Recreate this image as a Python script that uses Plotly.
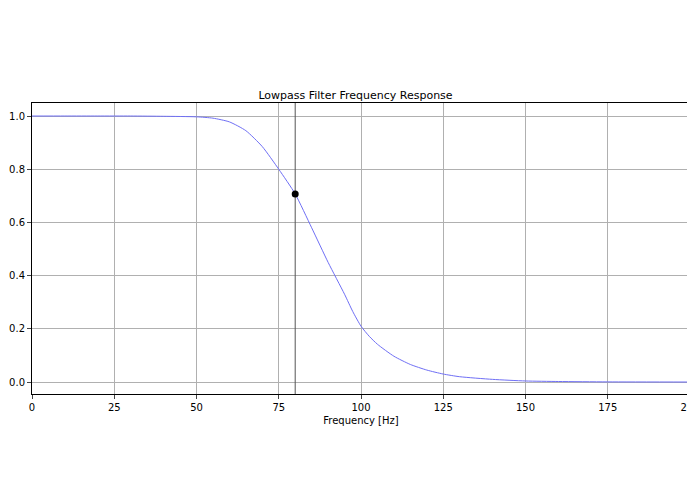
import plotly.graph_objects as go

freq = [0,10,20,30,40,50,55,60,65,70,75,80,85,90,95,97.5,100,102.5,105,110,115,120,125,130,140,150,160,175,200]
gain = [1.0,1.0,1.0,1.0,0.999,0.997,0.992,0.978,0.945,0.885,0.80,0.707,0.58,0.45,0.33,0.265,0.21,0.172,0.142,0.097,0.066,0.045,0.03,0.02,0.01,0.004,0.002,0.0005,0.0]
cutoff = 80
cutoff_gain = 0.707

fig = go.Figure()
fig.add_trace(go.Scatter(x=freq, y=gain, mode="lines", line=dict(color="#6f6ff5", width=1, shape="spline", smoothing=0.6)))
fig.add_trace(go.Scatter(x=[cutoff, cutoff], y=[-0.045, 1.049], mode="lines", line=dict(color="#555555", width=1)))
fig.add_trace(go.Scatter(x=[cutoff], y=[cutoff_gain], mode="markers", marker=dict(color="black", size=7)))

ax = dict(showgrid=True, gridcolor="#b0b0b0", gridwidth=1, showline=True, linecolor="black", mirror=True,
          ticks="outside", ticklen=4, zeroline=False, tickfont=dict(size=10), automargin=False)
fig.update_layout(
    width=695, height=494, margin=dict(l=24, r=13, t=95, b=108),
    plot_bgcolor="white", paper_bgcolor="white", showlegend=False,
    font=dict(family="DejaVu Sans", color="black", size=10),
    title=dict(text="Lowpass Filter Frequency Response", x=0.5, xanchor="center", y=1-87/494, yanchor="middle", font=dict(size=11)),
    xaxis=dict(ax, range=[0, 200], tickvals=[0,25,50,75,100,125,150,175,200], title=dict(text="Frequency [Hz]", standoff=4, font=dict(size=10))),
    yaxis=dict(ax, range=[-0.045, 1.049], tickvals=[0,0.2,0.4,0.6,0.8,1.0], tickformat=".1f"),
)
fig.write_html("out.html")
